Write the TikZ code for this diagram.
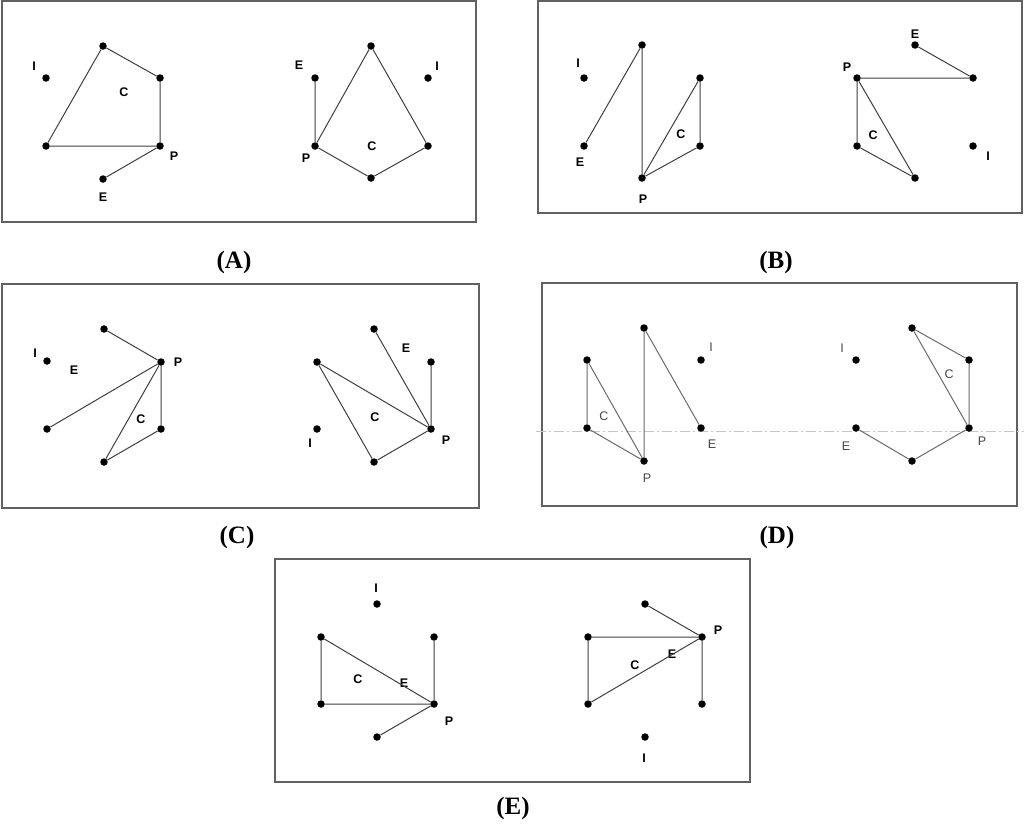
\documentclass[tikz,border=0pt]{standalone}
\usepackage{fontspec}
\setmainfont{Liberation Serif}
\newfontfamily\lblfont{Liberation Sans}
\begin{document}
\begin{tikzpicture}[x=1pt,y=-1pt,
  dot/.style={circle,fill=black,inner sep=0pt,minimum size=7.5pt},
  edge/.style={draw=black!75,line width=1pt},
  dedge/.style={draw=black!58,line width=1pt},
  frame/.style={draw=black!62,line width=1.3pt},
  lbl/.style={inner sep=0pt,font=\lblfont\bfseries\fontsize{12.5}{12.5}\selectfont},
  dlbl/.style={inner sep=0pt,text=black!72,font=\lblfont\fontsize{12.5}{12.5}\selectfont},
  captxt/.style={inner sep=0pt,font=\bfseries\fontsize{25}{25}\selectfont}]
\useasboundingbox (0,0) rectangle (1024,828);
\fill[white] (0,0) rectangle (1024,828);

% ---------- frames ----------
\draw[frame] (2,1) rectangle (476,222);
\draw[frame] (538,1) rectangle (1022,213);
\draw[frame] (2,284) rectangle (479,508);
\draw[frame] (542,283) rectangle (1017,506);
\draw[frame] (275,559) rectangle (750,782);

% ---------- captions ----------
\node[captxt] (capA) at (234,262) {(A)};
\node[captxt] (capB) at (776,262) {(B)};
\node[captxt] (capC) at (237,537) {(C)};
\node[captxt] (capD) at (777,537) {(D)};
\node[captxt] (capE) at (513,808) {(E)};

% ---------- Panel A left ----------
\node[dot] (a1i) at (46,78) {};
\node[dot] (a1t) at (103,46) {};
\node[dot] (a1r) at (160,78) {};
\node[dot] (a1p) at (160,146) {};
\node[dot] (a1l) at (46,146) {};
\node[dot] (a1e) at (103,179) {};
\node[lbl] (a1I) at (34,66) {I};
\node[lbl] (a1C) at (124,92) {C};
\node[lbl] (a1P) at (174,156) {P};
\node[lbl] (a1E) at (103,197) {E};
\draw[edge] (a1t) -- (a1r) -- (a1p) -- (a1l) -- (a1t);
\draw[edge] (a1p) -- (a1e);

% ---------- Panel A right ----------
\node[dot] (a2t) at (371,46) {};
\node[dot] (a2e) at (315,78) {};
\node[dot] (a2i) at (428,78) {};
\node[dot] (a2p) at (315,146) {};
\node[dot] (a2r) at (428,146) {};
\node[dot] (a2b) at (371,178) {};
\node[lbl] (a2E) at (299,65) {E};
\node[lbl] (a2I) at (437,66) {I};
\node[lbl] (a2C) at (372,146) {C};
\node[lbl] (a2P) at (306,158) {P};
\draw[edge] (a2e) -- (a2p) -- (a2t) -- (a2r) -- (a2b) -- (a2p);

% ---------- Panel B left ----------
\node[dot] (b1i) at (584,78) {};
\node[dot] (b1t) at (642,45) {};
\node[dot] (b1e) at (584,146) {};
\node[dot] (b1p) at (642,178) {};
\node[dot] (b1u) at (700,78) {};
\node[dot] (b1w) at (700,146) {};
\node[lbl] (b1I) at (578,63) {I};
\node[lbl] (b1E) at (580,162) {E};
\node[lbl] (b1P) at (643,199) {P};
\node[lbl] (b1C) at (681,134) {C};
\draw[edge] (b1e) -- (b1t) -- (b1p) -- (b1u) -- (b1w) -- (b1p);

% ---------- Panel B right ----------
\node[dot] (b2e) at (915,45) {};
\node[dot] (b2p) at (857,78) {};
\node[dot] (b2r) at (973,78) {};
\node[dot] (b2l) at (857,146) {};
\node[dot] (b2b) at (915,178) {};
\node[dot] (b2i) at (973,146) {};
\node[lbl] (b2E) at (915,34) {E};
\node[lbl] (b2P) at (847,67) {P};
\node[lbl] (b2C) at (873,135) {C};
\node[lbl] (b2I) at (988,156) {I};
\draw[edge] (b2e) -- (b2r) -- (b2p) -- (b2l) -- (b2b) -- (b2p);

% ---------- Panel C left ----------
\node[dot] (c1t) at (104,329) {};
\node[dot] (c1i) at (47,361) {};
\node[dot] (c1p) at (161,362) {};
\node[dot] (c1l) at (47,429) {};
\node[dot] (c1r) at (161,429) {};
\node[dot] (c1b) at (104,462) {};
\node[lbl] (c1I) at (35,353) {I};
\node[lbl] (c1E) at (74,370) {E};
\node[lbl] (c1P) at (178,362) {P};
\node[lbl] (c1C) at (141,419) {C};
\draw[edge] (c1t) -- (c1p) -- (c1l);
\draw[edge] (c1p) -- (c1b) -- (c1r) -- (c1p);

% ---------- Panel C right ----------
\node[dot] (c2t) at (374,329) {};
\node[dot] (c2u) at (317,362) {};
\node[dot] (c2v) at (431,362) {};
\node[dot] (c2i) at (317,429) {};
\node[dot] (c2p) at (431,429) {};
\node[dot] (c2b) at (374,462) {};
\node[lbl] (c2E) at (406,348) {E};
\node[lbl] (c2C) at (375,417) {C};
\node[lbl] (c2I) at (310,443) {I};
\node[lbl] (c2P) at (446,440) {P};
\draw[edge] (c2t) -- (c2p) -- (c2u) -- (c2b) -- (c2p) -- (c2v);

% ---------- Panel D ----------
\coordinate (dl) at (536,431);
\coordinate (dr) at (1024,431);
\draw[draw=black!12!green!8!gray!45,line width=0.8pt,dash pattern=on 10pt off 3pt on 2pt off 3pt] (dl) -- (dr);

\node[dot] (d1t) at (644,328) {};
\node[dot] (d1u) at (587,360) {};
\node[dot] (d1l) at (587,428) {};
\node[dot] (d1p) at (644,461) {};
\node[dot] (d1i) at (701,360) {};
\node[dot] (d1e) at (701,428) {};
\node[dlbl] (d1C) at (604,416) {C};
\node[dlbl] (d1P) at (647,478) {P};
\node[dlbl] (d1I) at (711,347) {I};
\node[dlbl] (d1E) at (712,444) {E};
\draw[dedge] (d1u) -- (d1l) -- (d1p) -- (d1u);
\draw[dedge] (d1p) -- (d1t) -- (d1e);

\node[dot] (d2t) at (912,328) {};
\node[dot] (d2r) at (969,360) {};
\node[dot] (d2i) at (856,360) {};
\node[dot] (d2p) at (969,428) {};
\node[dot] (d2e) at (856,428) {};
\node[dot] (d2b) at (912,461) {};
\node[dlbl] (d2I) at (842,348) {I};
\node[dlbl] (d2C) at (949,374) {C};
\node[dlbl] (d2P) at (982,441) {P};
\node[dlbl] (d2E) at (846,446) {E};
\draw[dedge] (d2t) -- (d2r) -- (d2p) -- (d2t);
\draw[dedge] (d2p) -- (d2b) -- (d2e);

% ---------- Panel E left ----------
\node[dot] (e1i) at (377,604) {};
\node[dot] (e1u) at (321,637) {};
\node[dot] (e1v) at (434,637) {};
\node[dot] (e1l) at (321,704) {};
\node[dot] (e1p) at (434,704) {};
\node[dot] (e1b) at (377,737) {};
\node[lbl] (e1I) at (376,588) {I};
\node[lbl] (e1C) at (358,679) {C};
\node[lbl] (e1E) at (404,683) {E};
\node[lbl] (e1P) at (449,721) {P};
\draw[edge] (e1u) -- (e1l) -- (e1p) -- (e1u);
\draw[edge] (e1v) -- (e1p) -- (e1b);

% ---------- Panel E right ----------
\node[dot] (e2t) at (645,604) {};
\node[dot] (e2u) at (588,637) {};
\node[dot] (e2p) at (702,637) {};
\node[dot] (e2l) at (588,704) {};
\node[dot] (e2r) at (702,704) {};
\node[dot] (e2i) at (645,737) {};
\node[lbl] (e2P) at (718,630) {P};
\node[lbl] (e2C) at (635,665) {C};
\node[lbl] (e2E) at (672,654) {E};
\node[lbl] (e2I) at (644,758) {I};
\draw[edge] (e2t) -- (e2p) -- (e2u) -- (e2l) -- (e2p) -- (e2r);
\end{tikzpicture}
\end{document}
